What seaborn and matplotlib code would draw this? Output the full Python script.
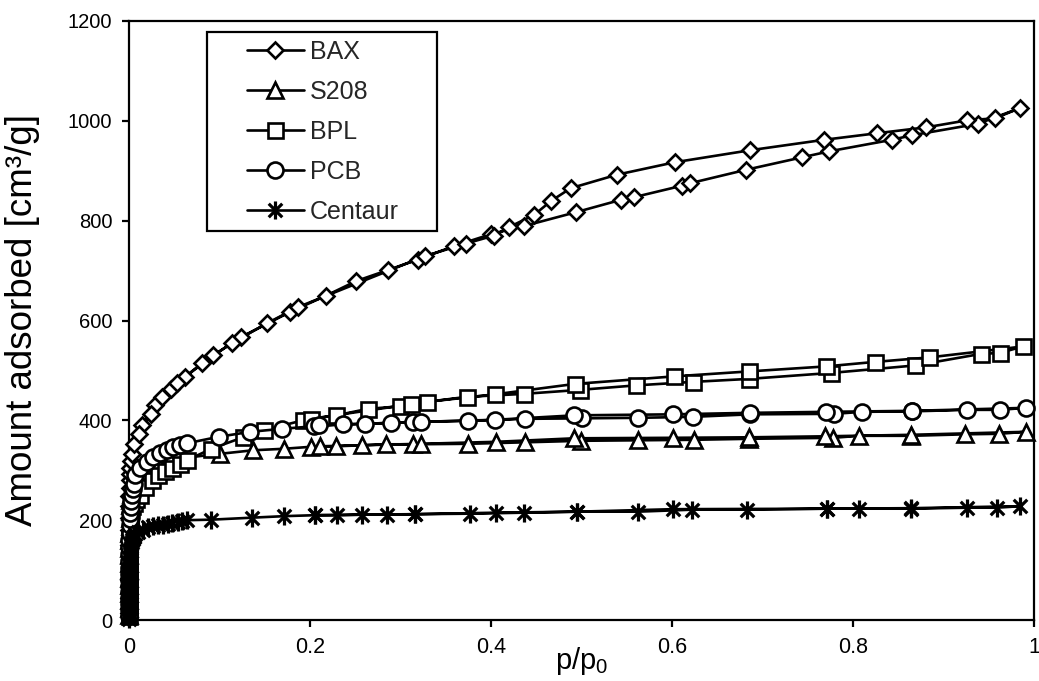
import matplotlib
matplotlib.use("Agg")
import matplotlib.pyplot as plt
import numpy as np
import pandas as pd
import seaborn as sns
from matplotlib.lines import Line2D
from matplotlib.path import Path
from matplotlib.legend_handler import HandlerLine2D

# ---------------- data ----------------
labels = ["BAX", "S208", "BPL", "PCB", "Centaur"]

# low-pressure parts (dense points stacked near p/p0 = 0)
BAX_low_p = [0.0, 0.0, 0.0, 0.0, 0.0001, 0.0001, 0.0002, 0.0003, 0.0004, 0.0006, 0.0008,
             0.001, 0.0015, 0.002, 0.003]
BAX_low_v = [15, 45, 80, 115, 150, 180, 205, 228, 248, 265, 280,
             293, 305, 318, 332]
BAX_ads_p = [0.005, 0.014, 0.029, 0.046, 0.062, 0.093, 0.124, 0.178, 0.218, 0.251, 0.286,
             0.319, 0.359, 0.400, 0.436, 0.494, 0.544, 0.558, 0.611, 0.620, 0.682, 0.744,
             0.774, 0.843, 0.865, 0.938, 0.985]
BAX_ads_v = [352, 390, 430, 463, 487, 530, 567, 617, 650, 679, 701,
             722, 749, 773, 789, 817, 842, 847, 870, 875, 902, 927,
             939, 962, 971, 994, 1026]
BAX_des_p = [0.957, 0.926, 0.881, 0.826, 0.768, 0.686, 0.603, 0.539, 0.488, 0.466,
             0.448, 0.420, 0.403, 0.372, 0.327, 0.187, 0.152, 0.114, 0.081, 0.053,
             0.037, 0.024, 0.011]
BAX_des_v = [1005, 1001, 987, 975, 962, 941, 917, 892, 865, 839,
             812, 787, 770, 754, 729, 627, 594, 555, 515, 474,
             447, 412, 372]

S208_low_p = [0.0, 0.0, 0.0, 0.0, 0.0, 0.0001, 0.0001, 0.0002, 0.0002, 0.0003, 0.0004,
              0.0005, 0.0006, 0.0008, 0.001, 0.0013, 0.0015, 0.002, 0.003, 0.004]
S208_low_v = [10, 25, 40, 55, 70, 85, 100, 115, 130, 145, 160,
              174, 188, 204, 218, 230, 240, 252, 265, 276]
S208_ads_p = [0.006, 0.009, 0.014, 0.022, 0.032, 0.045, 0.062,
              0.101, 0.137, 0.171, 0.201, 0.229, 0.257, 0.284, 0.314,
              0.375, 0.438, 0.499, 0.562, 0.624, 0.685,
              0.778, 0.807, 0.864, 0.924, 0.961, 0.991]
S208_ads_v = [283, 290, 298, 307, 314, 320, 325,
              333, 340, 343, 347, 348, 350, 352, 352,
              353, 356, 359, 360, 361, 363,
              365, 369, 369, 372, 373, 377]
S208_des_p = [0.864, 0.769, 0.685, 0.601, 0.492, 0.406, 0.323, 0.211]
S208_des_v = [371, 368, 366, 365, 364, 357, 353, 348]

BPL_low_p = [0.0, 0.0, 0.0, 0.0, 0.0, 0.0001, 0.0001, 0.0002, 0.0002, 0.0003, 0.0004,
             0.0005, 0.0006, 0.0008, 0.001, 0.0015, 0.002, 0.003]
BPL_low_v = [8, 22, 36, 50, 64, 78, 92, 106, 120, 135, 150,
             163, 175, 188, 200, 212, 220, 228]
BPL_ads_p = [0.005, 0.008, 0.012, 0.018, 0.025, 0.032, 0.040, 0.047, 0.056, 0.064,
             0.091, 0.126, 0.149, 0.192, 0.229, 0.264, 0.299, 0.312,
             0.373, 0.436, 0.498, 0.560, 0.623, 0.685,
             0.776, 0.869, 0.941, 0.962, 0.988]
BPL_ads_v = [235, 243, 250, 267, 280, 290, 299, 305, 312, 320,
             343, 366, 380, 400, 410, 423, 428, 433,
             447, 453, 461, 470, 477, 483,
             495, 510, 533, 535, 548]
BPL_des_p = [0.884, 0.824, 0.770, 0.685, 0.602, 0.493, 0.404, 0.329, 0.201]
BPL_des_v = [526, 517, 508, 498, 488, 473, 452, 437, 403]

PCB_low_p = [0.0, 0.0, 0.0, 0.0, 0.0, 0.0, 0.0001, 0.0001, 0.0002, 0.0002, 0.0003, 0.0004,
             0.0005, 0.0007, 0.0009, 0.0012, 0.0016, 0.002, 0.0025, 0.003, 0.004, 0.005]
PCB_low_v = [8, 20, 32, 44, 56, 68, 80, 92, 105, 118, 132, 146,
             160, 175, 190, 203, 215, 227, 238, 250, 262, 273]
PCB_ads_p = [0.007, 0.012, 0.020, 0.027, 0.034, 0.042, 0.049, 0.056, 0.064,
             0.099, 0.134, 0.169, 0.204, 0.236, 0.261, 0.290, 0.314,
             0.375, 0.438, 0.501, 0.562, 0.623, 0.686,
             0.779, 0.810, 0.865, 0.926, 0.962, 0.991]
PCB_ads_v = [290, 305, 317, 326, 334, 340, 347, 351, 354,
             367, 377, 383, 388, 392, 393, 395, 397,
             399, 403, 404, 405, 407, 412,
             413, 417, 418, 421, 421, 425]
PCB_des_p = [0.865, 0.770, 0.686, 0.601, 0.492, 0.404, 0.323, 0.210]
PCB_des_v = [419, 417, 415, 412, 410, 401, 397, 390]

CEN_low_p = [0.0, 0.0, 0.0, 0.0, 0.0, 0.0, 0.0, 0.0, 0.0, 0.0,
             0.0001, 0.0001, 0.0001, 0.0002, 0.0002, 0.0002, 0.0003, 0.0003, 0.0004, 0.0004,
             0.0005, 0.0006, 0.0007, 0.0008, 0.0009, 0.001, 0.0012, 0.0014, 0.0016, 0.0018,
             0.002, 0.0025, 0.003, 0.0035, 0.004, 0.005, 0.006, 0.007]
CEN_low_v = [2, 7, 12, 17, 22, 27, 32, 37, 42, 47,
             52, 57, 62, 67, 72, 77, 82, 87, 92, 97,
             102, 107, 112, 117, 122, 127, 132, 137, 141, 145,
             149, 153, 157, 160, 163, 166, 169, 172]
CEN_ads_p = [0.010, 0.016, 0.021, 0.027, 0.032, 0.038, 0.043, 0.048, 0.054, 0.059, 0.064,
             0.091, 0.136, 0.171, 0.206, 0.230, 0.257, 0.285, 0.316,
             0.377, 0.436, 0.495, 0.562, 0.622, 0.683,
             0.771, 0.807, 0.864, 0.926, 0.959, 0.985]
CEN_ads_v = [176, 181, 187, 189, 190, 191, 193, 195, 197, 198, 200,
             201, 205, 208, 210, 210, 211, 211, 212,
             213, 215, 217, 217, 221, 221,
             223, 223, 223, 225, 225, 228]
CEN_des_p = [0.864, 0.771, 0.601, 0.495, 0.406, 0.316, 0.206]
CEN_des_v = [224, 223, 222, 217, 215, 212, 210]

x_ticks = [0, 0.2, 0.4, 0.6, 0.8, 1.0]
x_ticklabels = ["0", "0.2", "0.4", "0.6", "0.8", "1"]
y_ticks = [0, 200, 400, 600, 800, 1000, 1200]

# ---------------- style ----------------
sns.set_theme(style="white")
plt.rcParams["font.family"] = ["Liberation Sans", "DejaVu Sans"]
plt.rcParams["mathtext.fontset"] = "custom"
plt.rcParams["mathtext.rm"] = "Liberation Sans"
plt.rcParams["mathtext.it"] = "Liberation Sans:italic"

# asterisk marker (vertical bar + X), like the spreadsheet "*" marker
star = Path([(0, -1), (0, 1), (-0.75, -0.75), (0.75, 0.75), (-0.75, 0.75), (0.75, -0.75)],
            [Path.MOVETO, Path.LINETO, Path.MOVETO, Path.LINETO, Path.MOVETO, Path.LINETO])

LW = 1.9
markers = {"BAX": ("D", 8.3), "S208": ("^", 11.0), "BPL": ("s", 10.8),
           "PCB": ("o", 11.5), "Centaur": (star, 13.0)}

data = {
    "BAX": (BAX_low_p + BAX_ads_p, BAX_low_v + BAX_ads_v, BAX_des_p, BAX_des_v),
    "S208": (S208_low_p + S208_ads_p, S208_low_v + S208_ads_v, S208_des_p, S208_des_v),
    "BPL": (BPL_low_p + BPL_ads_p, BPL_low_v + BPL_ads_v, BPL_des_p, BPL_des_v),
    "PCB": (PCB_low_p + PCB_ads_p, PCB_low_v + PCB_ads_v, PCB_des_p, PCB_des_v),
    "Centaur": (CEN_low_p + CEN_ads_p, CEN_low_v + CEN_ads_v, CEN_des_p, CEN_des_v),
}

fig = plt.figure(figsize=(10.39, 6.81), dpi=100)
fig.patch.set_facecolor("white")
ax = fig.add_axes([129 / 1039, 61 / 681, 905 / 1039, 599 / 681])
ax.set_facecolor("white")

for i, name in enumerate(labels):
    ap, av, dp, dv = data[name]
    df = pd.DataFrame({"p": list(ap) + list(dp), "v": list(av) + list(dv)})
    mk, ms = markers[name]
    sns.lineplot(data=df, x="p", y="v", sort=False, estimator=None, ax=ax,
                 color="black", linewidth=LW, marker=mk, markersize=ms,
                 markerfacecolor="white", markeredgecolor="black",
                 markeredgewidth=LW + (0.4 if name == "Centaur" else 0.0),
                 clip_on=False, zorder=3 + i, legend=False)

ax.set_xlim(0, 1)
ax.set_ylim(0, 1200)
ax.set_xticks(x_ticks)
ax.set_xticklabels(x_ticklabels)
ax.set_yticks(y_ticks)

for s in ax.spines.values():
    s.set_visible(True)
    s.set_color("black")
    s.set_linewidth(1.6)

ax.tick_params(axis="both", which="major", direction="out", length=5, width=1.6,
               color="black", labelcolor="black", bottom=True, left=True,
               top=False, right=False)
ax.tick_params(axis="x", labelsize=15.5, pad=7)
ax.tick_params(axis="y", labelsize=14.5, pad=7)

ax.set_xlabel("p/p$_\\mathregular{0}$", fontsize=21, color="black")
ax.set_ylabel("Amount adsorbed [cm³/g]", fontsize=26.5, color="black")
ax.xaxis.set_label_coords(0.5, -0.042)
ax.yaxis.set_label_coords(-0.098, 0.5)

# legend
handles = []
for name in labels:
    mk, ms = markers[name]
    handles.append(Line2D([0], [0], color="black", lw=LW, marker=mk, markersize=ms,
                          markerfacecolor="white", markeredgecolor="black",
                          markeredgewidth=LW + (0.4 if name == "Centaur" else 0.0)))
leg = ax.legend(handles, labels, loc="upper left",
                bbox_to_anchor=(0.0862, 0.5, 0.2541, 0.4816), mode="expand",
                borderaxespad=0, frameon=True, fancybox=False, framealpha=1,
                edgecolor="black", facecolor="white", fontsize=18,
                handlelength=3.56, handletextpad=0.24, borderpad=0.3,
                labelspacing=0.64, numpoints=1,
                handler_map={Line2D: HandlerLine2D(xpad=1.28)})
leg.get_frame().set_linewidth(1.6)
leg.set_zorder(20)

fig.savefig("out.png", dpi=100, facecolor="white")
